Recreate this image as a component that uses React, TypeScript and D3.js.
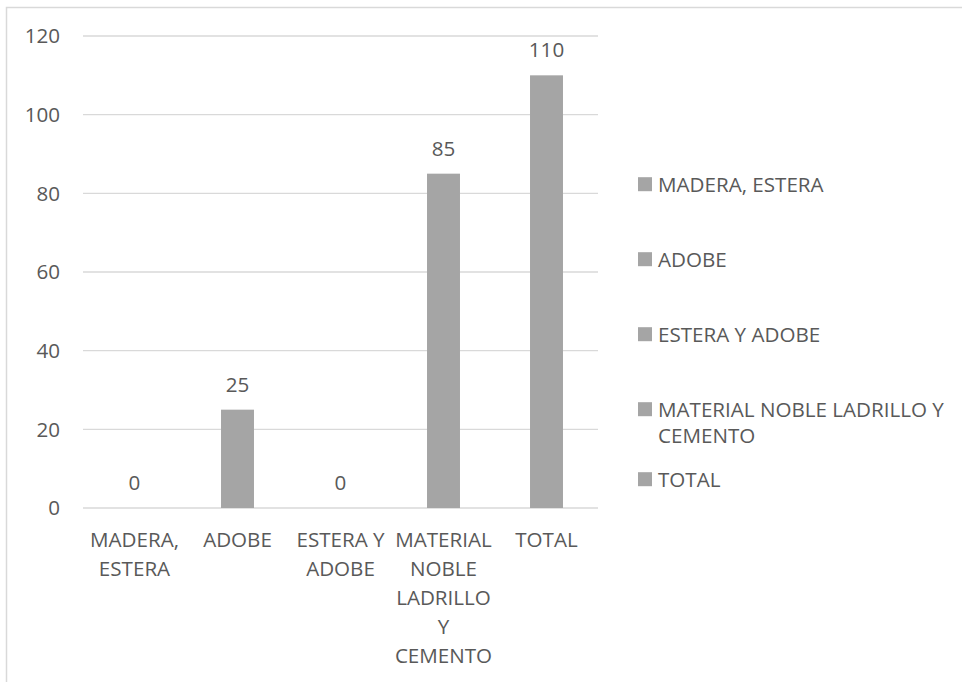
import * as d3 from 'd3'
import { useEffect, useRef } from 'react'

// categories and values
const categories = [
  'MADERA, ESTERA',
  'ADOBE',
  'ESTERA Y ADOBE',
  'MATERIAL NOBLE LADRILLO Y CEMENTO',
  'TOTAL',
]
const values = [0, 25, 0, 85, 110]
const yTicks = [0, 20, 40, 60, 80, 100, 120]

// how Excel wrapped the axis labels and legend entries
const axisLabelLines = [
  ['MADERA,', 'ESTERA'],
  ['ADOBE'],
  ['ESTERA Y', 'ADOBE'],
  ['MATERIAL', 'NOBLE', 'LADRILLO', 'Y', 'CEMENTO'],
  ['TOTAL'],
]
const legendLines = [
  ['MADERA, ESTERA'],
  ['ADOBE'],
  ['ESTERA Y ADOBE'],
  ['MATERIAL NOBLE LADRILLO Y', 'CEMENTO'],
  ['TOTAL'],
]

export default function App() {
  const svgRef = useRef<SVGSVGElement>(null)

  useEffect(() => {
    if (!svgRef.current) return
    document.body.style.margin = '0'

    const width = 962
    const height = 682
    const font = '"Open Sans", "Noto Sans", sans-serif'
    const fontSize = '20.6px'
    const textColor = '#595959'
    const barColor = '#a5a5a5'
    const gridColor = '#d9d9d9'

    const svg = d3.select(svgRef.current)
    svg.selectAll('*').remove()
    svg.attr('width', width).attr('height', height)

    // chart frame (only top and left edges fall inside the picture)
    svg
      .append('path')
      .attr('d', `M6.5,${height} V7.5 H${width}`)
      .attr('fill', 'none')
      .attr('stroke', gridColor)
      .attr('stroke-width', 1.5)

    const plot = { left: 83, right: 598, top: 36, bottom: 508 }

    const x = d3
      .scaleBand()
      .domain(categories)
      .range([plot.left, plot.right])
      .paddingInner(0.68)
      .paddingOuter(0.34)

    const y = d3.scaleLinear().domain([0, 120]).range([plot.bottom, plot.top])

    // gridlines
    svg
      .append('g')
      .selectAll('line')
      .data(yTicks)
      .enter()
      .append('line')
      .attr('x1', plot.left)
      .attr('x2', plot.right)
      .attr('y1', d => y(d))
      .attr('y2', d => y(d))
      .attr('stroke', gridColor)
      .attr('stroke-width', 1.3)

    // y tick labels
    svg
      .append('g')
      .selectAll('text')
      .data(yTicks)
      .enter()
      .append('text')
      .attr('x', 60)
      .attr('y', d => y(d))
      .attr('dy', '0.36em')
      .attr('text-anchor', 'end')
      .style('font-family', font)
      .style('font-size', fontSize)
      .style('fill', textColor)
      .text(d => d)

    // bars
    svg
      .append('g')
      .selectAll('rect')
      .data(values)
      .enter()
      .append('rect')
      .attr('x', (d, i) => x(categories[i])!)
      .attr('y', d => y(d))
      .attr('width', x.bandwidth())
      .attr('height', d => y(0) - y(d))
      .attr('fill', barColor)

    // value labels
    svg
      .append('g')
      .selectAll('text')
      .data(values)
      .enter()
      .append('text')
      .attr('x', (d, i) => x(categories[i])! + x.bandwidth() / 2)
      .attr('y', d => y(d) - 18)
      .attr('text-anchor', 'middle')
      .style('font-family', font)
      .style('font-size', fontSize)
      .style('fill', textColor)
      .text(d => d)

    // category labels
    categories.forEach((c, i) => {
      const t = svg
        .append('text')
        .attr('text-anchor', 'middle')
        .style('font-family', font)
        .style('font-size', fontSize)
        .style('fill', textColor)
      axisLabelLines[i].forEach((line, j) => {
        t.append('tspan')
          .attr('x', x(c)! + x.bandwidth() / 2)
          .attr('y', 547 + j * 29)
          .text(line)
      })
    })

    // legend
    const legendY = [191.7, 266.7, 341.7, 416.7, 486.7]
    categories.forEach((c, i) => {
      const g = svg.append('g')
      g.append('rect')
        .attr('x', 638)
        .attr('y', legendY[i] - 14.5)
        .attr('width', 14)
        .attr('height', 14)
        .attr('fill', barColor)
      const t = g
        .append('text')
        .style('font-family', font)
        .style('font-size', fontSize)
        .style('fill', textColor)
      legendLines[i].forEach((line, j) => {
        t.append('tspan')
          .attr('x', 658)
          .attr('y', legendY[i] + j * 26.7)
          .text(line)
      })
    })
  }, [])

  return <svg ref={svgRef} style={{ display: 'block' }}></svg>
}
